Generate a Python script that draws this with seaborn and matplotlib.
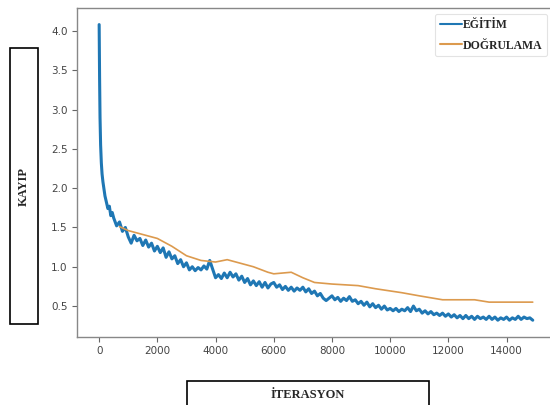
import numpy as np
import pandas as pd
import matplotlib
matplotlib.use('Agg')
import matplotlib.pyplot as plt
import seaborn as sns
from matplotlib.patches import Rectangle

# eğitim kaybı: başlangıç kısmı sık, sonra her 100 iterasyonda bir
egitim_iter_bas = [0, 15, 30, 50, 75, 100, 130, 160, 200, 250, 300, 350, 400, 450]
egitim_kayip_bas = [4.08, 3.40, 2.90, 2.55, 2.32, 2.18, 2.08, 2.00, 1.90, 1.82, 1.74, 1.77, 1.65, 1.69]
egitim_kayip = [
    1.62, 1.52, 1.57, 1.45, 1.50, 1.38, 1.30, 1.40, 1.33, 1.36,   # 500-1400
    1.27, 1.34, 1.25, 1.30, 1.20, 1.26, 1.18, 1.24, 1.12, 1.19,   # 1500-2400
    1.10, 1.14, 1.04, 1.09, 1.00, 1.05, 0.96, 1.00, 0.95, 0.99,   # 2500-3400
    0.96, 1.01, 0.97, 1.08, 0.97, 0.86, 0.90, 0.85, 0.92, 0.86,   # 3500-4400
    0.93, 0.87, 0.91, 0.83, 0.88, 0.80, 0.85, 0.77, 0.82, 0.76,   # 4500-5400
    0.81, 0.74, 0.80, 0.73, 0.78, 0.80, 0.74, 0.77, 0.71, 0.75,   # 5500-6400
    0.70, 0.74, 0.69, 0.73, 0.70, 0.74, 0.68, 0.72, 0.66, 0.69,   # 6500-7400
    0.63, 0.66, 0.60, 0.57, 0.60, 0.63, 0.58, 0.61, 0.56, 0.60,   # 7500-8400
    0.57, 0.62, 0.56, 0.58, 0.53, 0.56, 0.51, 0.55, 0.49, 0.53,   # 8500-9400
    0.48, 0.51, 0.46, 0.50, 0.45, 0.47, 0.44, 0.47, 0.43, 0.46,   # 9500-10400
    0.44, 0.48, 0.43, 0.50, 0.44, 0.46, 0.41, 0.44, 0.40, 0.43,   # 10500-11400
    0.39, 0.41, 0.38, 0.41, 0.37, 0.40, 0.36, 0.39, 0.35, 0.38,   # 11500-12400
    0.34, 0.38, 0.34, 0.37, 0.33, 0.37, 0.34, 0.36, 0.33, 0.37,   # 12500-13400
    0.33, 0.36, 0.32, 0.35, 0.33, 0.36, 0.32, 0.35, 0.33, 0.37,   # 13500-14400
    0.33, 0.36, 0.34, 0.35, 0.32,                                 # 14500-14900
]
egitim_iter = egitim_iter_bas + list(range(500, 500 + 100 * len(egitim_kayip), 100))
egitim_kayip = egitim_kayip_bas + egitim_kayip

# doğrulama kaybı
dogrulama_iter = [700, 1000, 1500, 2000, 2500, 3000, 3500, 4000, 4400, 4800, 5300, 5800,
                  6000, 6600, 7000, 7400, 8000, 8900, 9500, 10400, 11000, 11800, 12900,
                  13400, 14900]
dogrulama_kayip = [1.51, 1.46, 1.41, 1.36, 1.26, 1.14, 1.08, 1.06, 1.09, 1.05, 1.00, 0.93,
                   0.91, 0.93, 0.86, 0.80, 0.78, 0.76, 0.72, 0.67, 0.63, 0.58, 0.58,
                   0.55, 0.55]

df_e = pd.DataFrame({'iter': egitim_iter, 'kayip': egitim_kayip})
df_d = pd.DataFrame({'iter': dogrulama_iter, 'kayip': dogrulama_kayip})

sns.set_style('ticks')
serif = ['Liberation Serif', 'DejaVu Serif']

fig = plt.figure(figsize=(5.5, 4.05), dpi=100)
ax = fig.add_axes([0.1406, 0.1686, 0.873, 0.8114])

sns.lineplot(data=df_e, x='iter', y='kayip', ax=ax, color='#1f77b4', linewidth=2.2,
             label='EĞİTİM')
sns.lineplot(data=df_d, x='iter', y='kayip', ax=ax, color='#dc9a4e', linewidth=1.2,
             label='DOĞRULAMA')

ax.set_xlim(-750, 15750)
ax.set_ylim(0.11, 4.29)
ax.set_xticks(range(0, 14001, 2000))
ax.set_yticks([0.5, 1.0, 1.5, 2.0, 2.5, 3.0, 3.5, 4.0])
ax.set_xlabel('')
ax.set_ylabel('')
for s in ax.spines.values():
    s.set_visible(True)
    s.set_color('#888888')
    s.set_linewidth(1.0)
ax.tick_params(labelsize=7.5, labelcolor='#444444', color='#666666', length=3.5, width=0.8)

leg = ax.legend(loc='upper right', bbox_to_anchor=(547 / 550, 1 - 14 / 405),
                bbox_transform=fig.transFigure, borderaxespad=0, handlelength=1.9,
                handletextpad=0.05, labelspacing=0.75, frameon=True, fancybox=True,
                prop={'family': serif, 'weight': 'bold', 'size': 8.5})
leg.get_frame().set_edgecolor('#dddddd')
leg.get_frame().set_linewidth(0.8)
for h in leg.get_lines():
    h.set_linewidth(1.5)

# eksen başlıkları kutu içinde
fig.patches.append(Rectangle((10 / 550, 1 - 324 / 405), 28 / 550, 276 / 405,
                             transform=fig.transFigure, fill=False, edgecolor='black',
                             linewidth=1.2))
fig.text(24 / 550, 1 - 186 / 405, 'KAYIP', rotation=90, ha='center', va='center',
         family=serif, weight='bold', fontsize=9)
fig.patches.append(Rectangle((187 / 550, -0.1), 242 / 550, 0.1 + 24 / 405,
                             transform=fig.transFigure, fill=False, edgecolor='black',
                             linewidth=1.2))
fig.text(308 / 550, 1 - 395 / 405, 'İTERASYON', ha='center', va='center',
         family=serif, weight='bold', fontsize=9)

fig.savefig('out.png', dpi=100)
